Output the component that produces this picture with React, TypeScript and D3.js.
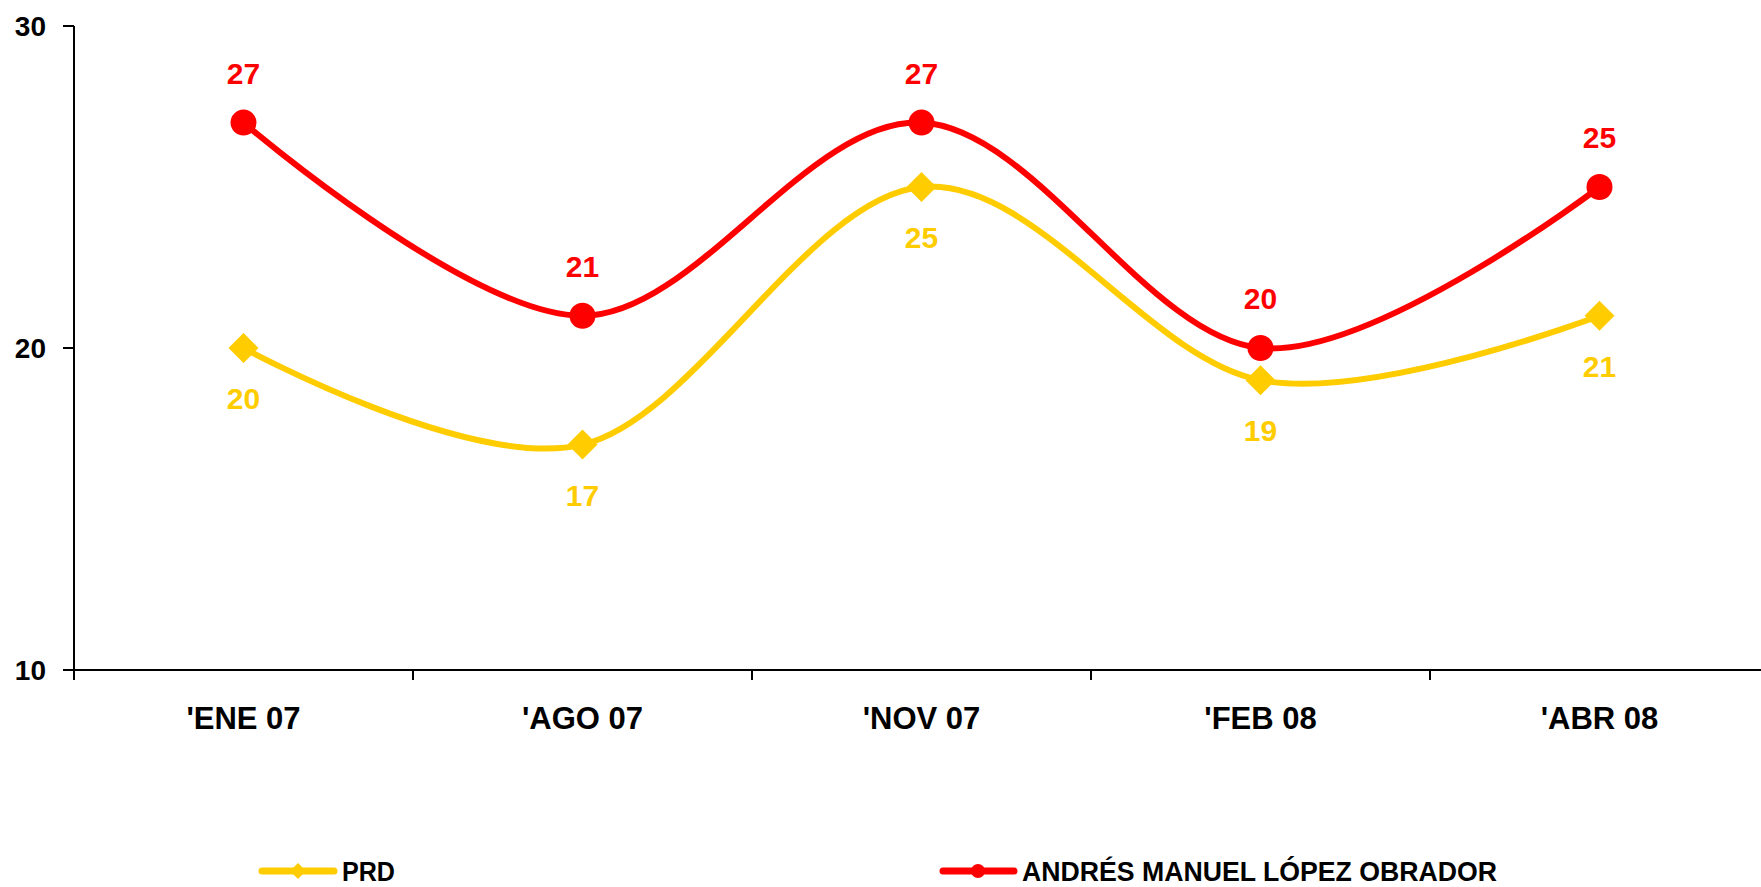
import React from "react";
import * as d3 from "d3";

// survey months
const categories = ["'ENE 07", "'AGO 07", "'NOV 07", "'FEB 08", "'ABR 08"];
const prdValues = [20, 17, 25, 19, 21];
const amloValues = [27, 21, 27, 20, 25];
const yTicks = [10, 20, 30];

const W = 1761;
const H = 887;
const FONT = "'Liberation Sans', Arial, sans-serif";
const YELLOW = "#FFCC00";
const RED = "#FF0000";

export default function App() {
  const x = d3.scaleBand<string>().domain(categories).range([74, 74 + 5 * 339]);
  const y = d3.scaleLinear().domain([10, 30]).range([670, 26]);
  const cx = (c: string) => (x(c) as number) + x.bandwidth() / 2;

  const line = d3
    .line<number>()
    .x((_, i) => cx(categories[i]))
    .y((d) => y(d))
    .curve(d3.curveCatmullRom.alpha(0));

  const diamond = (px: number, py: number, r: number) =>
    `M${px},${py - r}L${px + r},${py}L${px},${py + r}L${px - r},${py}Z`;

  const boundaries = categories.map((c) => x(c) as number).concat([x.range()[1]]);

  return (
    <svg width={W} height={H} style={{ position: "absolute", left: 0, top: 0, background: "#fff" }}>
      {/* y axis */}
      <line x1={74} x2={74} y1={y(30)} y2={680} stroke="#000" strokeWidth={2} />
      {yTicks.map((t) => (
        <g key={t}>
          <line x1={63} x2={74} y1={y(t)} y2={y(t)} stroke="#000" strokeWidth={2} />
          <text x={46} y={y(t) + 10} textAnchor="end" fontFamily={FONT} fontWeight="bold" fontSize={28}>
            {t}
          </text>
        </g>
      ))}
      {/* x axis */}
      <line x1={74} x2={x.range()[1]} y1={y(10)} y2={y(10)} stroke="#000" strokeWidth={2} />
      {boundaries.map((b, i) => (
        <line key={i} x1={b} x2={b} y1={y(10)} y2={680} stroke="#000" strokeWidth={2} />
      ))}
      {categories.map((c) => (
        <text key={c} x={cx(c)} y={729} textAnchor="middle" fontFamily={FONT} fontWeight="bold" fontSize={31}>
          {c}
        </text>
      ))}

      {/* PRD */}
      <path d={line(prdValues) ?? ""} fill="none" stroke={YELLOW} strokeWidth={6} />
      {prdValues.map((v, i) => (
        <g key={i}>
          <path d={diamond(cx(categories[i]), y(v), 15)} fill={YELLOW} />
          <text x={cx(categories[i])} y={y(v) + 61} textAnchor="middle" fill={YELLOW} fontFamily={FONT} fontWeight="bold" fontSize={30}>
            {v}
          </text>
        </g>
      ))}

      {/* AMLO */}
      <path d={line(amloValues) ?? ""} fill="none" stroke={RED} strokeWidth={6} />
      {amloValues.map((v, i) => (
        <g key={i}>
          <circle cx={cx(categories[i])} cy={y(v)} r={13} fill={RED} />
          <text x={cx(categories[i])} y={y(v) - 39} textAnchor="middle" fill={RED} fontFamily={FONT} fontWeight="bold" fontSize={30}>
            {v}
          </text>
        </g>
      ))}

      {/* legend */}
      <line x1={262} x2={334} y1={871} y2={871} stroke={YELLOW} strokeWidth={7} strokeLinecap="round" />
      <path d={diamond(298, 871, 8)} fill={YELLOW} />
      <text x={342} y={881} fontFamily={FONT} fontWeight="bold" fontSize={27} textLength={53} lengthAdjust="spacingAndGlyphs">
        PRD
      </text>
      <line x1={943} x2={1014} y1={871} y2={871} stroke={RED} strokeWidth={7} strokeLinecap="round" />
      <circle cx={978} cy={871} r={7} fill={RED} />
      <text x={1022} y={881} fontFamily={FONT} fontWeight="bold" fontSize={27} textLength={475} lengthAdjust="spacingAndGlyphs">
        ANDRÉS MANUEL LÓPEZ OBRADOR
      </text>
    </svg>
  );
}
